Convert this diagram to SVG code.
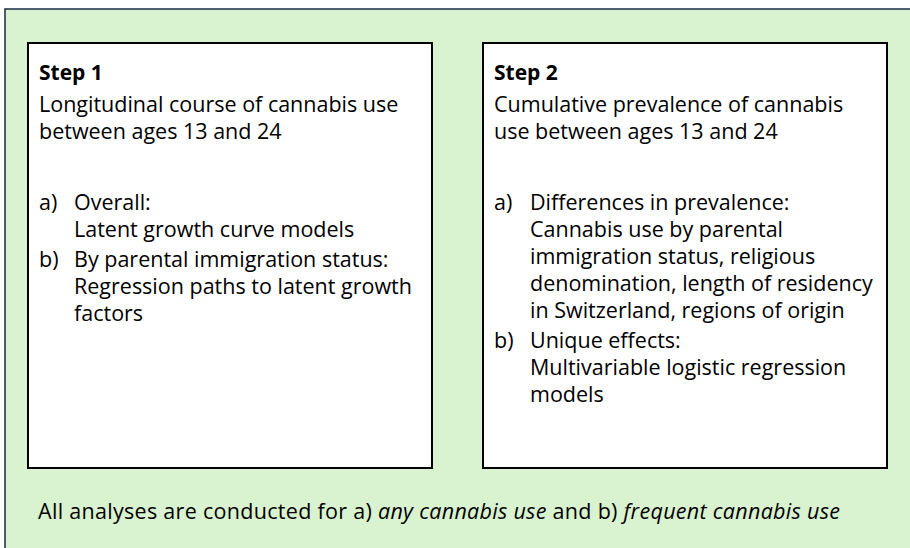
<svg xmlns="http://www.w3.org/2000/svg" width="910" height="548" viewBox="0 0 910 548">
  <style>
    text { font-family: "Open Sans", "Liberation Sans", sans-serif; font-size: 21.5px; fill: #000000; }
    .head { font-weight: 700; font-size: 21px; }
    .em { font-style: italic; }
    .panel { fill: #d9f2d0; stroke: #172c45; stroke-width: 1.5; }
    .box { fill: #ffffff; stroke: #000000; stroke-width: 2; }
  </style>

  <!-- background panel -->
  <g id="panel">
    <rect class="panel" x="5" y="9" width="915" height="550"/>
  </g>

  <!-- step 1 -->
  <g id="step1">
    <rect class="box" x="28" y="43" width="404" height="425"/>
    <text class="head" x="39" y="80">Step 1</text>
    <text x="39" y="112">Longitudinal course of cannabis use</text>
    <text x="39" y="139">between ages 13 and 24</text>
    <text x="39" y="210">a)</text>
    <text x="74" y="210">Overall:</text>
    <text x="74" y="237">Latent growth curve models</text>
    <text x="39" y="267">b)</text>
    <text x="74" y="267">By parental immigration status:</text>
    <text x="74" y="294">Regression paths to latent growth</text>
    <text x="74" y="321">factors</text>
  </g>

  <!-- step 2 -->
  <g id="step2">
    <rect class="box" x="483" y="43" width="404" height="425"/>
    <text class="head" x="494" y="80">Step 2</text>
    <text x="494" y="112">Cumulative prevalence of cannabis</text>
    <text x="494" y="139">use between ages 13 and 24</text>
    <text x="494" y="210">a)</text>
    <text x="530" y="210">Differences in prevalence:</text>
    <text x="530" y="237">Cannabis use by parental</text>
    <text x="530" y="264">immigration status, religious</text>
    <text x="530" y="291">denomination, length of residency</text>
    <text x="530" y="318">in Switzerland, regions of origin</text>
    <text x="494" y="348">b)</text>
    <text x="530" y="348">Unique effects:</text>
    <text x="530" y="375">Multivariable logistic regression</text>
    <text x="530" y="402">models</text>
  </g>

  <!-- note under both steps -->
  <g id="note">
    <text x="38" y="519" textLength="802">All analyses are conducted for a) <tspan class="em">any cannabis use</tspan> and b) <tspan class="em">frequent cannabis use</tspan></text>
  </g>
</svg>
